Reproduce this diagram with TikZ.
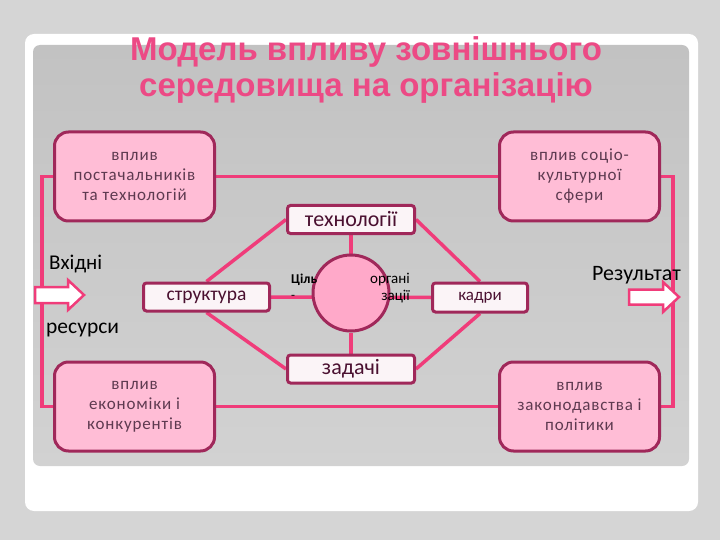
\documentclass[tikz,border=0pt]{standalone}
\usepackage{fontspec}
\setmainfont{Carlito}
\newfontfamily\titlefont{Liberation Sans}
\newfontfamily\boxfont{Carlito}[LetterSpace=5]
\usetikzlibrary{calc}
\definecolor{outerbg}{HTML}{D5D5D5}
\definecolor{paneltop}{HTML}{C2C2C2}
\definecolor{panelbot}{HTML}{D2D2D2}
\definecolor{titlepink}{HTML}{EC4A85}
\definecolor{linkpink}{HTML}{F03C7A}
\definecolor{maroon}{HTML}{A0285A}
\definecolor{boxpink}{HTML}{FFBDD6}
\definecolor{circpink}{HTML}{FFA9C9}
\definecolor{smallfill}{HTML}{FBF4F7}
\definecolor{bigtext}{HTML}{5E3A50}
\definecolor{smalltext}{HTML}{4A1030}
\pgfdeclarelayer{bg}
\pgfdeclarelayer{lines}
\pgfsetlayers{bg,lines,main}
\tikzset{
  bigbox/.style={draw=maroon, line width=3pt, fill=boxpink, rounded corners=14pt,
    minimum width=160pt, minimum height=89pt, align=center, text=bigtext,
    font=\boxfont\fontsize{17}{20}\selectfont, inner sep=0pt},
  smallbox/.style={draw=maroon, line width=3pt, fill=smallfill, rounded corners=3pt,
    minimum height=28pt, text=smalltext, inner sep=0pt},
  link/.style={draw=linkpink, line width=3.5pt},
  blockarrow/.style={draw=linkpink, line width=2.5pt, fill=white, line join=miter},
  plain/.style={text=black, inner sep=0pt}
}
\begin{document}
\begin{tikzpicture}[x=1pt,y=-1pt]
\begin{pgfonlayer}{bg}
  \fill[outerbg] (0,0) rectangle (720,540);
  \fill[white, rounded corners=9pt] (25,34) rectangle (698,511);
  \shade[top color=paneltop, bottom color=panelbot, rounded corners=7pt] (33,45) rectangle (689,466);
\end{pgfonlayer}

% title
\node[text=titlepink, font=\titlefont\bfseries\fontsize{33}{36}\selectfont, align=center, inner sep=0pt]
  (title) at (366,70) {Модель впливу зовнішнього\\середовища на організацію};

% big boxes
\node[bigbox] (tl) at (134.5,176.5) {вплив\\постачальників\\та технологій};
\node[bigbox] (tr) at (579.5,176.5) {вплив соціо-\\культурної\\сфери};
\node[bigbox] (bl) at (134.5,406.5) {вплив\\економіки і\\конкурентів};
\node[bigbox] (br) at (579.5,406.5) {вплив\\законодавства і\\політики};

% small boxes
\node[smallbox, minimum width=127pt, font=\fontsize{22}{24}\selectfont] (tech) at (351,219.5) {технології};
\node[smallbox, minimum width=127pt, font=\fontsize{22}{24}\selectfont] (task) at (351,369) {задачі};
\node[smallbox, minimum width=126pt, font=\fontsize{19.5}{21}\selectfont] (struct) at (206.5,297) {структура};
\node[smallbox, minimum width=95pt, minimum height=29pt, font=\fontsize{17}{19}\selectfont] (kadry) at (480,297.5) {кадри};
\node[circle, draw=maroon, line width=3pt, fill=circpink, minimum size=76pt, inner sep=0pt] (circ) at (351,293) {};

% circle labels
\node[plain, font=\bfseries\fontsize{13.5}{15}\selectfont, anchor=base west] (goal) at (291,283) {Ціль};
\node[plain, font=\fontsize{13}{15}\selectfont, anchor=base west] (dash) at (291,299) {-};
\node[plain, font=\fontsize{15}{16}\selectfont, anchor=base east] (org1) at (410,283) {органі};
\node[plain, font=\fontsize{15}{16}\selectfont, anchor=base east] (org2) at (410,300) {зації};

% side labels
\node[plain, font=\fontsize{21}{22}\selectfont, anchor=base west] (inp1) at (49,269) {Вхідні};
\node[plain, font=\fontsize{21.5}{22}\selectfont, anchor=base west] (inp2) at (46,333) {ресурси};
\node[plain, font=\fontsize{22}{22}\selectfont, anchor=base east] (res) at (681,280) {Результат};

% connectors
\begin{pgfonlayer}{lines}
  \draw[link] (tl.west) -- ++(-11,0) coordinate (lc1) |- (bl.west);
  \draw[link] (tr.east) -- ++(12,0) coordinate (rc1) |- (br.east);
  \draw[link] (tl.east) -- (tr.west);
  \draw[link] (bl.east) -- (br.west);
  \draw[link] (tech.south) -- (circ.north);
  \draw[link] (circ.south) -- (task.north);
  \draw[link] (struct.east) -- (kadry.west);
  \draw[link] (struct.north) -- (tech.west);
  \draw[link] (struct.south) -- (task.west);
  \draw[link] (tech.east) -- (kadry.north);
  \draw[link] (kadry.south) -- (task.east);
\end{pgfonlayer}

% block arrows
\coordinate (la) at (35,295);
\draw[blockarrow] ($(la)+(0,-8)$) -- ++(33,0) -- ++(0,-7) -- ++(16,15) -- ++(-16,15) -- ++(0,-7) -- ++(-33,0) -- cycle;
\coordinate (ra) at (629,297);
\draw[blockarrow] ($(ra)+(0,-7.5)$) -- ++(34,0) -- ++(0,-7.5) -- ++(16,15) -- ++(-16,15) -- ++(0,-7.5) -- ++(-34,0) -- cycle;
\end{tikzpicture}
\end{document}
